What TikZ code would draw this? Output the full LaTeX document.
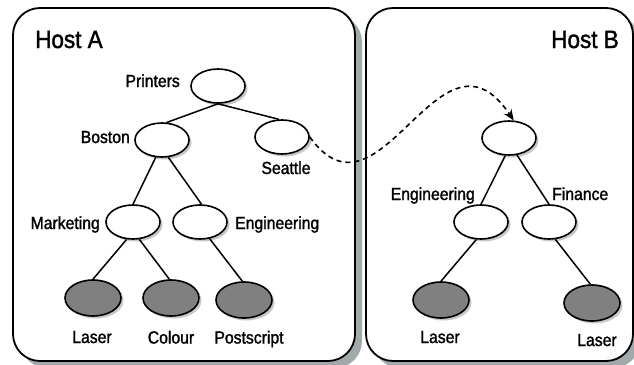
\documentclass[tikz,border=0pt]{standalone}
\usepackage{fontspec}
\setmainfont{Liberation Sans}[FakeStretch=0.9, FakeBold=1.5]
\usetikzlibrary{shapes.geometric,shadows,arrows.meta}
\definecolor{boxshade}{RGB}{160,170,170}
\definecolor{ovalshade}{RGB}{200,200,200}
\definecolor{leaffill}{RGB}{128,128,128}
\tikzset{
  hostbox/.style={draw=black, line width=1.8pt, fill=white, rounded corners=27pt},
  hostshade/.style={fill=boxshade, rounded corners=27pt},
  dir/.style={ellipse, draw, line width=1.6pt, fill=white,
    minimum width=54pt, minimum height=34pt, inner sep=0pt,
    drop shadow={shadow xshift=2.5pt, shadow yshift=-2.5pt, fill=ovalshade, opacity=1}},
  leaf/.style={dir, fill=leaffill, minimum width=56pt, minimum height=36pt},
  lbl/.style={font=\fontsize{17.5}{20}\selectfont, inner sep=0pt, anchor=base},
  title/.style={font=\fontsize{25}{28}\selectfont, inner sep=0pt, anchor=base},
  link/.style={line width=1.5pt},
  refer/.style={line width=1.6pt, dash pattern=on 5pt off 4pt,
    -{Stealth[length=11pt,width=9pt]}}
}
\begin{document}
\begin{tikzpicture}[x=1pt, y=-1pt]
\useasboundingbox (0,0) rectangle (634,364);

% host containers with their shadows
\fill[hostshade] (20,15) rectangle (362,368);
\fill[hostshade] (373,15) rectangle (640,368);
\draw[hostbox] (13,8) rectangle (355,361);
\draw[hostbox] (366,8) rectangle (633,361);

\node[title, anchor=base west] (hosta) at (35,48) {Host A};
\node[title, anchor=base east] (hostb) at (619,48) {Host B};

% Host A directory tree
\node[dir] (printers) at (218,86) {};
\node[dir] (boston) at (162,140) {};
\node[dir] (seattle) at (282,137) {};
\node[dir] (marketing) at (133,222) {};
\node[dir] (enga) at (200,222) {};
\node[leaf] (lasera) at (93,298) {};
\node[leaf] (colour) at (171,298) {};
\node[leaf] (postscript) at (244,300) {};

% Host B directory tree
\node[dir] (btop) at (509,138) {};
\node[dir] (engb) at (481,222) {};
\node[dir] (finance) at (549,222) {};
\node[leaf] (laserb) at (441,300) {};
\node[leaf] (laserc) at (592,303) {};

% tree edges
\draw[link] (printers.south) -- (boston.75);
\draw[link] (printers.south) -- (seattle.100);
\draw[link] (boston.250) -- (marketing.north);
\draw[link] (boston.290) -- (enga.85);
\draw[link] (marketing.250) -- (lasera.north);
\draw[link] (marketing.290) -- (colour.95);
\draw[link] (enga.300) -- (postscript.95);
\draw[link] (btop.258) -- (engb.north);
\draw[link] (btop.295) -- (finance.north);
\draw[link] (engb.255) -- (laserb.north);
\draw[link] (finance.290) -- (laserc.95);

% cross-host reference
\draw[refer] (seattle.east) .. controls (380,235) and (440,10) .. (btop.75);

% labels
\node[lbl, anchor=base east] (lprinters) at (180,87) {Printers};
\node[lbl, anchor=base east] (lboston) at (130,143) {Boston};
\node[lbl] (lseattle) at (286,174) {Seattle};
\node[lbl, anchor=base east] (lmarketing) at (100,229) {Marketing};
\node[lbl, anchor=base west] (lenga) at (235,229) {Engineering};
\node[lbl] (llasera) at (92,343) {Laser};
\node[lbl] (lcolour) at (171,343.5) {Colour};
\node[lbl] (lpostscript) at (249,343.5) {Postscript};
\node[lbl, anchor=base east] (lengb) at (475,200) {Engineering};
\node[lbl, anchor=base west] (lfinance) at (552,200) {Finance};
\node[lbl] (llaserb) at (440,343) {Laser};
\node[lbl] (llaserc) at (597,346) {Laser};
\end{tikzpicture}
\end{document}
